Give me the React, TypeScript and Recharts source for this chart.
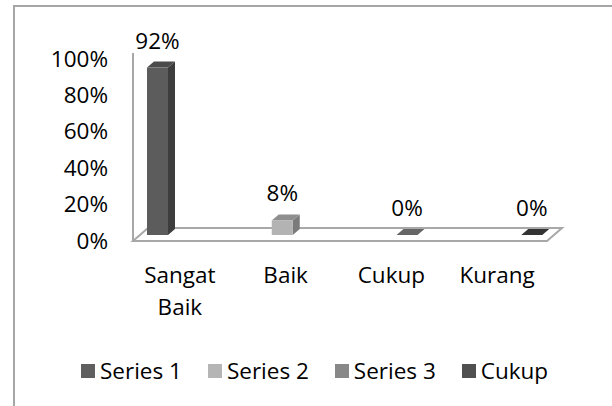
import React from "react";
import {
  BarChart,
  Bar,
  XAxis,
  YAxis,
  Cell,
  LabelList,
  CartesianGrid,
} from "recharts";

const CATEGORIES = ["Sangat Baik", "Baik", "Cukup", "Kurang"];
const VALUES = [0.92, 0.08, 0, 0];
const Y_TICKS = [0, 0.2, 0.4, 0.6, 0.8, 1];
const LEGEND_NAMES = ["Series 1", "Series 2", "Series 3", "Cukup"];

const FRONT = ["#5c5c5c", "#b3b3b3", "#808080", "#4d4d4d"];
const SIDE = ["#3d3d3d", "#7b7b7b", "#5a5a5a", "#2e2e2e"];
const TOP = ["#4b4b4b", "#8e8e8e", "#666666", "#333333"];
const LEGEND_COLORS = ["#5f5f5f", "#b5b5b5", "#888888", "#505050"];

const FONT = "'Open Sans', sans-serif";
const FS = 22.5;
const DEPTH_X = 7;
const DEPTH_Y = 6;

const data = CATEGORIES.map((name, i) => ({ name, value: VALUES[i] }));

const pct = (v: number) => `${Math.round(v * 100)}%`;

function Bar3D(props: any) {
  const { x, y, width, height, index } = props;
  const w = width;
  const h = height;
  return (
    <g>
      <polygon
        points={`${x + w},${y} ${x + w + DEPTH_X},${y - DEPTH_Y} ${x + w + DEPTH_X},${y + h - DEPTH_Y} ${x + w},${y + h}`}
        fill={SIDE[index]}
      />
      <polygon
        points={`${x},${y} ${x + DEPTH_X},${y - DEPTH_Y} ${x + w + DEPTH_X},${y - DEPTH_Y} ${x + w},${y}`}
        fill={TOP[index]}
      />
      {h > 0 && <rect x={x} y={y} width={w} height={h} fill={FRONT[index]} />}
    </g>
  );
}

// floor of the 3d plot, drawn from the grid line at value 0
function Floor(props: any) {
  const { x1, x2, y1 } = props;
  const front = y1 + 6;
  const back = y1 - 7;
  const skew = 15;
  return (
    <g>
      <polygon
        points={`${x1},${front} ${x1 + skew},${back} ${x2 + skew},${back} ${x2},${front}`}
        fill="#ffffff"
        stroke="#a8a8a8"
        strokeWidth={2}
      />
      <line x1={x1} y1={y1} x2={x1} y2={front} stroke="#a8a8a8" strokeWidth={2} />
    </g>
  );
}

function YTick(props: any) {
  const { x, y, payload } = props;
  return (
    <text x={x} y={y + 5} textAnchor="end" dominantBaseline="central" fontFamily={FONT} fontSize={FS} fill="#000">
      {pct(payload.value)}
    </text>
  );
}

function XTick(props: any) {
  const { x, y, payload } = props;
  const lines = String(payload.value).split(" ");
  return (
    <text x={x} y={y} textAnchor="middle" fontFamily={FONT} fontSize={FS} fill="#000">
      {lines.map((ln, i) => (
        <tspan key={i} x={x} dy={i === 0 ? 0 : 32} dominantBaseline="central">
          {ln}
        </tspan>
      ))}
    </text>
  );
}

function ValueLabel(props: any) {
  const { x, y, width, value } = props;
  return (
    <text x={x + width / 2} y={y - 19} textAnchor="middle" fontFamily={FONT} fontSize={FS} fill="#000">
      {pct(value)}
    </text>
  );
}

export default function App() {
  return (
    <div style={{ position: "absolute", left: 0, top: 0, width: 612, height: 406, background: "#fff", overflow: "hidden" }}>
      <div
        style={{
          position: "absolute",
          left: 13,
          top: 5,
          width: 620,
          height: 420,
          borderLeft: "2px solid #a6a6a6",
          borderTop: "2px solid #a6a6a6",
        }}
      />
      <div style={{ position: "absolute", left: 0, top: 0 }}>
        <BarChart width={612} height={406} data={data} margin={{ top: 53, right: 65, bottom: 71, left: 0 }}>
          <CartesianGrid
            vertical={false}
            horizontalValues={[0]}
            horizontal={(p: any) => <Floor key={p.key ?? "floor"} x1={p.x1} x2={p.x2} y1={p.y1} />}
          />
          <XAxis
            xAxisId="cat"
            dataKey="name"
            height={100}
            axisLine={false}
            tickLine={false}
            tickSize={0}
            tickMargin={39}
            padding={{ left: -6, right: -3 }}
            tick={<XTick />}
            interval={0}
          />
          <XAxis xAxisId="bars" dataKey="name" hide height={0} padding={{ left: -38, right: -47 }} />
          <YAxis
            width={133}
            domain={[0, 1]}
            ticks={Y_TICKS}
            tickLine={false}
            tickSize={0}
            tickMargin={25}
            axisLine={{ stroke: "#a8a8a8", strokeWidth: 2 }}
            tick={<YTick />}
          />
          <Bar xAxisId="bars" dataKey="value" barSize={21} shape={(p: any) => <Bar3D {...p} />} isAnimationActive={false}>
            {data.map((d, i) => (
              <Cell key={d.name} fill={FRONT[i]} />
            ))}
            <LabelList dataKey="value" content={(p: any) => <ValueLabel {...p} />} />
          </Bar>
        </BarChart>
      </div>
      <div
        style={{
          position: "absolute",
          left: 81,
          top: 355,
          display: "flex",
          alignItems: "center",
          fontFamily: FONT,
          fontSize: FS,
          color: "#000",
          whiteSpace: "nowrap",
        }}
      >
        {LEGEND_NAMES.map((n, i) => (
          <div key={n} style={{ display: "flex", alignItems: "center", marginRight: 26 }}>
            <span style={{ display: "inline-block", width: 14, height: 14, background: LEGEND_COLORS[i], marginRight: 5 }} />
            <span>{n}</span>
          </div>
        ))}
      </div>
    </div>
  );
}
